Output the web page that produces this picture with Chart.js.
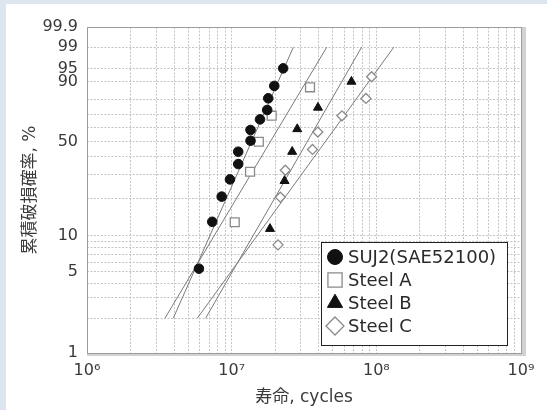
<!DOCTYPE html>
<html>
<head>
<meta charset="utf-8">
<script src="https://cdn.jsdelivr.net/npm/chart.js@4.4.0/dist/chart.umd.min.js"></script>
<style>
  html, body { margin: 0; padding: 0; background: #dde5ef; }
  #wrap { position: relative; width: 547px; height: 410px; overflow: hidden; }
  #card { position: absolute; left: 6px; top: 4px; right: 0; bottom: 0; background: #fff; }
  #chart { position: absolute; left: 0; top: 0; }
</style>
</head>
<body>
<div id="wrap"><div id="card"></div><canvas id="chart" width="547" height="410"></canvas></div>
<script>
// life (cycles) and cumulative failure probability (%) for each material
const sujCycles = [5.94e6, 7.34e6, 8.53e6, 9.73e6, 1.11e7, 1.11e7, 1.35e7, 1.35e7, 1.57e7, 1.76e7, 1.79e7, 1.97e7, 2.27e7];
const sujPct    = [5.3, 13.0, 20.6, 27.8, 35.8, 43.3, 50.7, 58.4, 66.2, 73.0, 80.9, 88.0, 95.1];

const steelACycles = [1.05e7, 1.34e7, 1.54e7, 1.89e7, 3.48e7];
const steelAPct    = [12.9, 31.6, 50.0, 68.9, 87.3];

const steelBCycles = [1.84e7, 2.32e7, 2.62e7, 2.84e7, 3.95e7, 6.73e7];
const steelBPct    = [11.4, 27.1, 43.3, 59.1, 74.7, 90.1];

const steelCCycles = [2.09e7, 2.17e7, 2.35e7, 3.62e7, 3.94e7, 5.79e7, 8.48e7, 9.28e7];
const steelCPct    = [8.4, 20.4, 32.4, 44.8, 56.9, 68.8, 80.8, 92.2];

// Weibull fit lines, given by their ends at 2 % and 99 %
const fitPct          = [2, 99];
const sujFitCycles    = [3.95e6, 2.67e7];
const steelAFitCycles = [3.46e6, 4.54e7];
const steelBFitCycles = [6.61e6, 7.91e7];
const steelCFitCycles = [5.79e6, 1.32e8];

// axis ticks
const xDecades  = [6, 7, 8, 9];
const xSteps    = [1, 2, 3, 4, 5, 6, 7, 8, 9];
const pctGrid   = [1, 2, 3, 4, 5, 6, 7, 8, 9, 10, 20, 30, 40, 50, 60, 70, 80, 90, 95, 99, 99.9];
const pctLabels = [1, 5, 10, 50, 90, 95, 99, 99.9];

const sup = { 6: '⁶', 7: '⁷', 8: '⁸', 9: '⁹' };
const weib = p => Math.log(-Math.log(1 - p / 100));

// probability axis on Weibull paper: ln(-ln(1 - F))
class WeibullScale extends Chart.Scale {
  determineDataLimits() {
    this.min = this.options.min;
    this.max = this.options.max;
  }
  buildTicks() {
    return pctGrid.map(v => ({ value: v }));
  }
  configure() {
    super.configure();
    this._lo = weib(this.min);
    this._span = weib(this.max) - this._lo;
  }
  getLabelForValue(v) { return v + ' %'; }
  getPixelForValue(v) {
    return this.getPixelForDecimal((weib(v) - this._lo) / this._span);
  }
  getValueForPixel(px) {
    const w = this._lo + this.getDecimalForPixel(px) * this._span;
    return 100 * (1 - Math.exp(-Math.exp(w)));
  }
}
WeibullScale.id = 'weibull';
WeibullScale.defaults = {};
Chart.register(WeibullScale);

const pts = (xs, ys) => xs.map((x, i) => ({ x: x, y: ys[i] }));

const xTicks = [];
xDecades.forEach(d => {
  xSteps.forEach(s => {
    if (d < 9 || s === 1) xTicks.push(s * Math.pow(10, d));
  });
});

const fitLine = (xs) => ({
  data: pts(xs, fitPct),
  showLine: true,
  borderColor: '#7a7a7a',
  borderWidth: 1,
  pointRadius: 0,
  order: 2
});

const markers = [
  { label: 'SUJ2(SAE52100)', data: pts(sujCycles, sujPct), pointStyle: 'circle', pointRadius: 4.8,
    backgroundColor: '#111', borderColor: '#111', borderWidth: 1, legendRadius: 7.5 },
  { label: 'Steel A', data: pts(steelACycles, steelAPct), pointStyle: 'rect', pointRadius: 6.3,
    backgroundColor: '#fff', borderColor: '#8a8a8a', borderWidth: 1.3, legendRadius: 10 },
  { label: 'Steel B', data: pts(steelBCycles, steelBPct), pointStyle: 'triangle', pointRadius: 5.2,
    backgroundColor: '#111', borderColor: '#111', borderWidth: 1, legendRadius: 8.8 },
  { label: 'Steel C', data: pts(steelCCycles, steelCPct), pointStyle: 'rectRot', pointRadius: 5,
    backgroundColor: '#fff', borderColor: '#8a8a8a', borderWidth: 1.3, legendRadius: 9 }
];
markers.forEach(m => { m.order = 1; m.showLine = false; });

// gray frame with a soft edge on the right and bottom
const framePlugin = {
  id: 'frame',
  beforeDatasetsDraw(chart) {
    const { ctx, chartArea: a } = chart;
    ctx.save();
    ctx.fillStyle = '#d2d2d2';
    ctx.fillRect(a.right, a.top, 5, a.bottom - a.top + 3);
    ctx.fillRect(a.left, a.bottom, a.right - a.left + 5, 3);
    ctx.strokeStyle = '#9c9c9c';
    ctx.lineWidth = 1;
    ctx.strokeRect(a.left + 0.5, a.top + 0.5, a.right - a.left, a.bottom - a.top);
    ctx.restore();
  }
};

// boxed legend inside the plot
const legendBox = {
  id: 'legendBox',
  afterDraw(chart) {
    const { ctx } = chart;
    const x = 321, y = 242, w = 186, h = 103;
    ctx.save();
    ctx.fillStyle = '#fff';
    ctx.fillRect(x, y, w, h);
    ctx.strokeStyle = '#222';
    ctx.lineWidth = 1;
    ctx.strokeRect(x + 0.5, y + 0.5, w, h);
    ctx.font = '18px "DejaVu Sans", sans-serif';
    ctx.textBaseline = 'middle';
    markers.forEach((m, i) => {
      const cy = y + 15 + i * 23;
      ctx.fillStyle = m.backgroundColor;
      ctx.strokeStyle = m.borderColor;
      ctx.lineWidth = m.borderWidth;
      Chart.helpers.drawPoint(ctx, { pointStyle: m.pointStyle, radius: m.legendRadius, borderWidth: m.borderWidth, rotation: 0 }, x + 14, cy);
      ctx.fillStyle = '#2a2a2a';
      ctx.fillText(m.label, x + 27, cy + 1);
    });
    ctx.restore();
  }
};

const tickFont = { family: '"DejaVu Sans", sans-serif', size: 16 };
const titleFont = { family: '"DejaVu Sans", "Noto Sans CJK JP", sans-serif', size: 17 };

new Chart(document.getElementById('chart'), {
  type: 'scatter',
  data: {
    datasets: [
      fitLine(sujFitCycles), fitLine(steelAFitCycles), fitLine(steelBFitCycles), fitLine(steelCFitCycles),
      ...markers
    ]
  },
  options: {
    responsive: false,
    animation: false,
    layout: { padding: { top: 27, right: 26, left: 0, bottom: 0 } },
    plugins: { legend: { display: false }, tooltip: { enabled: false } },
    scales: {
      x: {
        type: 'logarithmic',
        min: 1e6,
        max: 1e9,
        afterBuildTicks: s => { s.ticks = xTicks.map(v => ({ value: v })); },
        afterFit: s => { s.height = 57; },
        ticks: {
          autoSkip: false,
          maxRotation: 0,
          padding: 8,
          color: '#3a3a3a',
          font: tickFont,
          callback: v => {
            const e = Math.round(Math.log10(v));
            return Math.abs(Math.log10(v) - e) < 1e-9 ? '10' + sup[e] : '';
          }
        },
        grid: { color: '#c4c4c4', lineWidth: 1, drawTicks: false },
        border: { display: false, dash: [2, 1.5] },
        title: { display: true, text: '寿命, cycles', color: '#3a3a3a', font: titleFont, padding: { top: 0, bottom: 2 } }
      },
      y: {
        type: 'weibull',
        position: 'left',
        min: 1,
        max: 99.9,
        afterFit: s => { s.width = 87; },
        ticks: {
          autoSkip: false,
          padding: 9,
          color: '#3a3a3a',
          font: tickFont,
          callback: v => pctLabels.includes(v) ? String(v) : ''
        },
        grid: { color: '#c4c4c4', lineWidth: 1, drawTicks: false },
        border: { display: false, dash: [2, 1.5] },
        title: { display: true, text: '累積破損確率, %', color: '#3a3a3a', font: titleFont, padding: { top: 20, bottom: 0 } }
      }
    }
  },
  plugins: [framePlugin, legendBox]
});
</script>
</body>
</html>
